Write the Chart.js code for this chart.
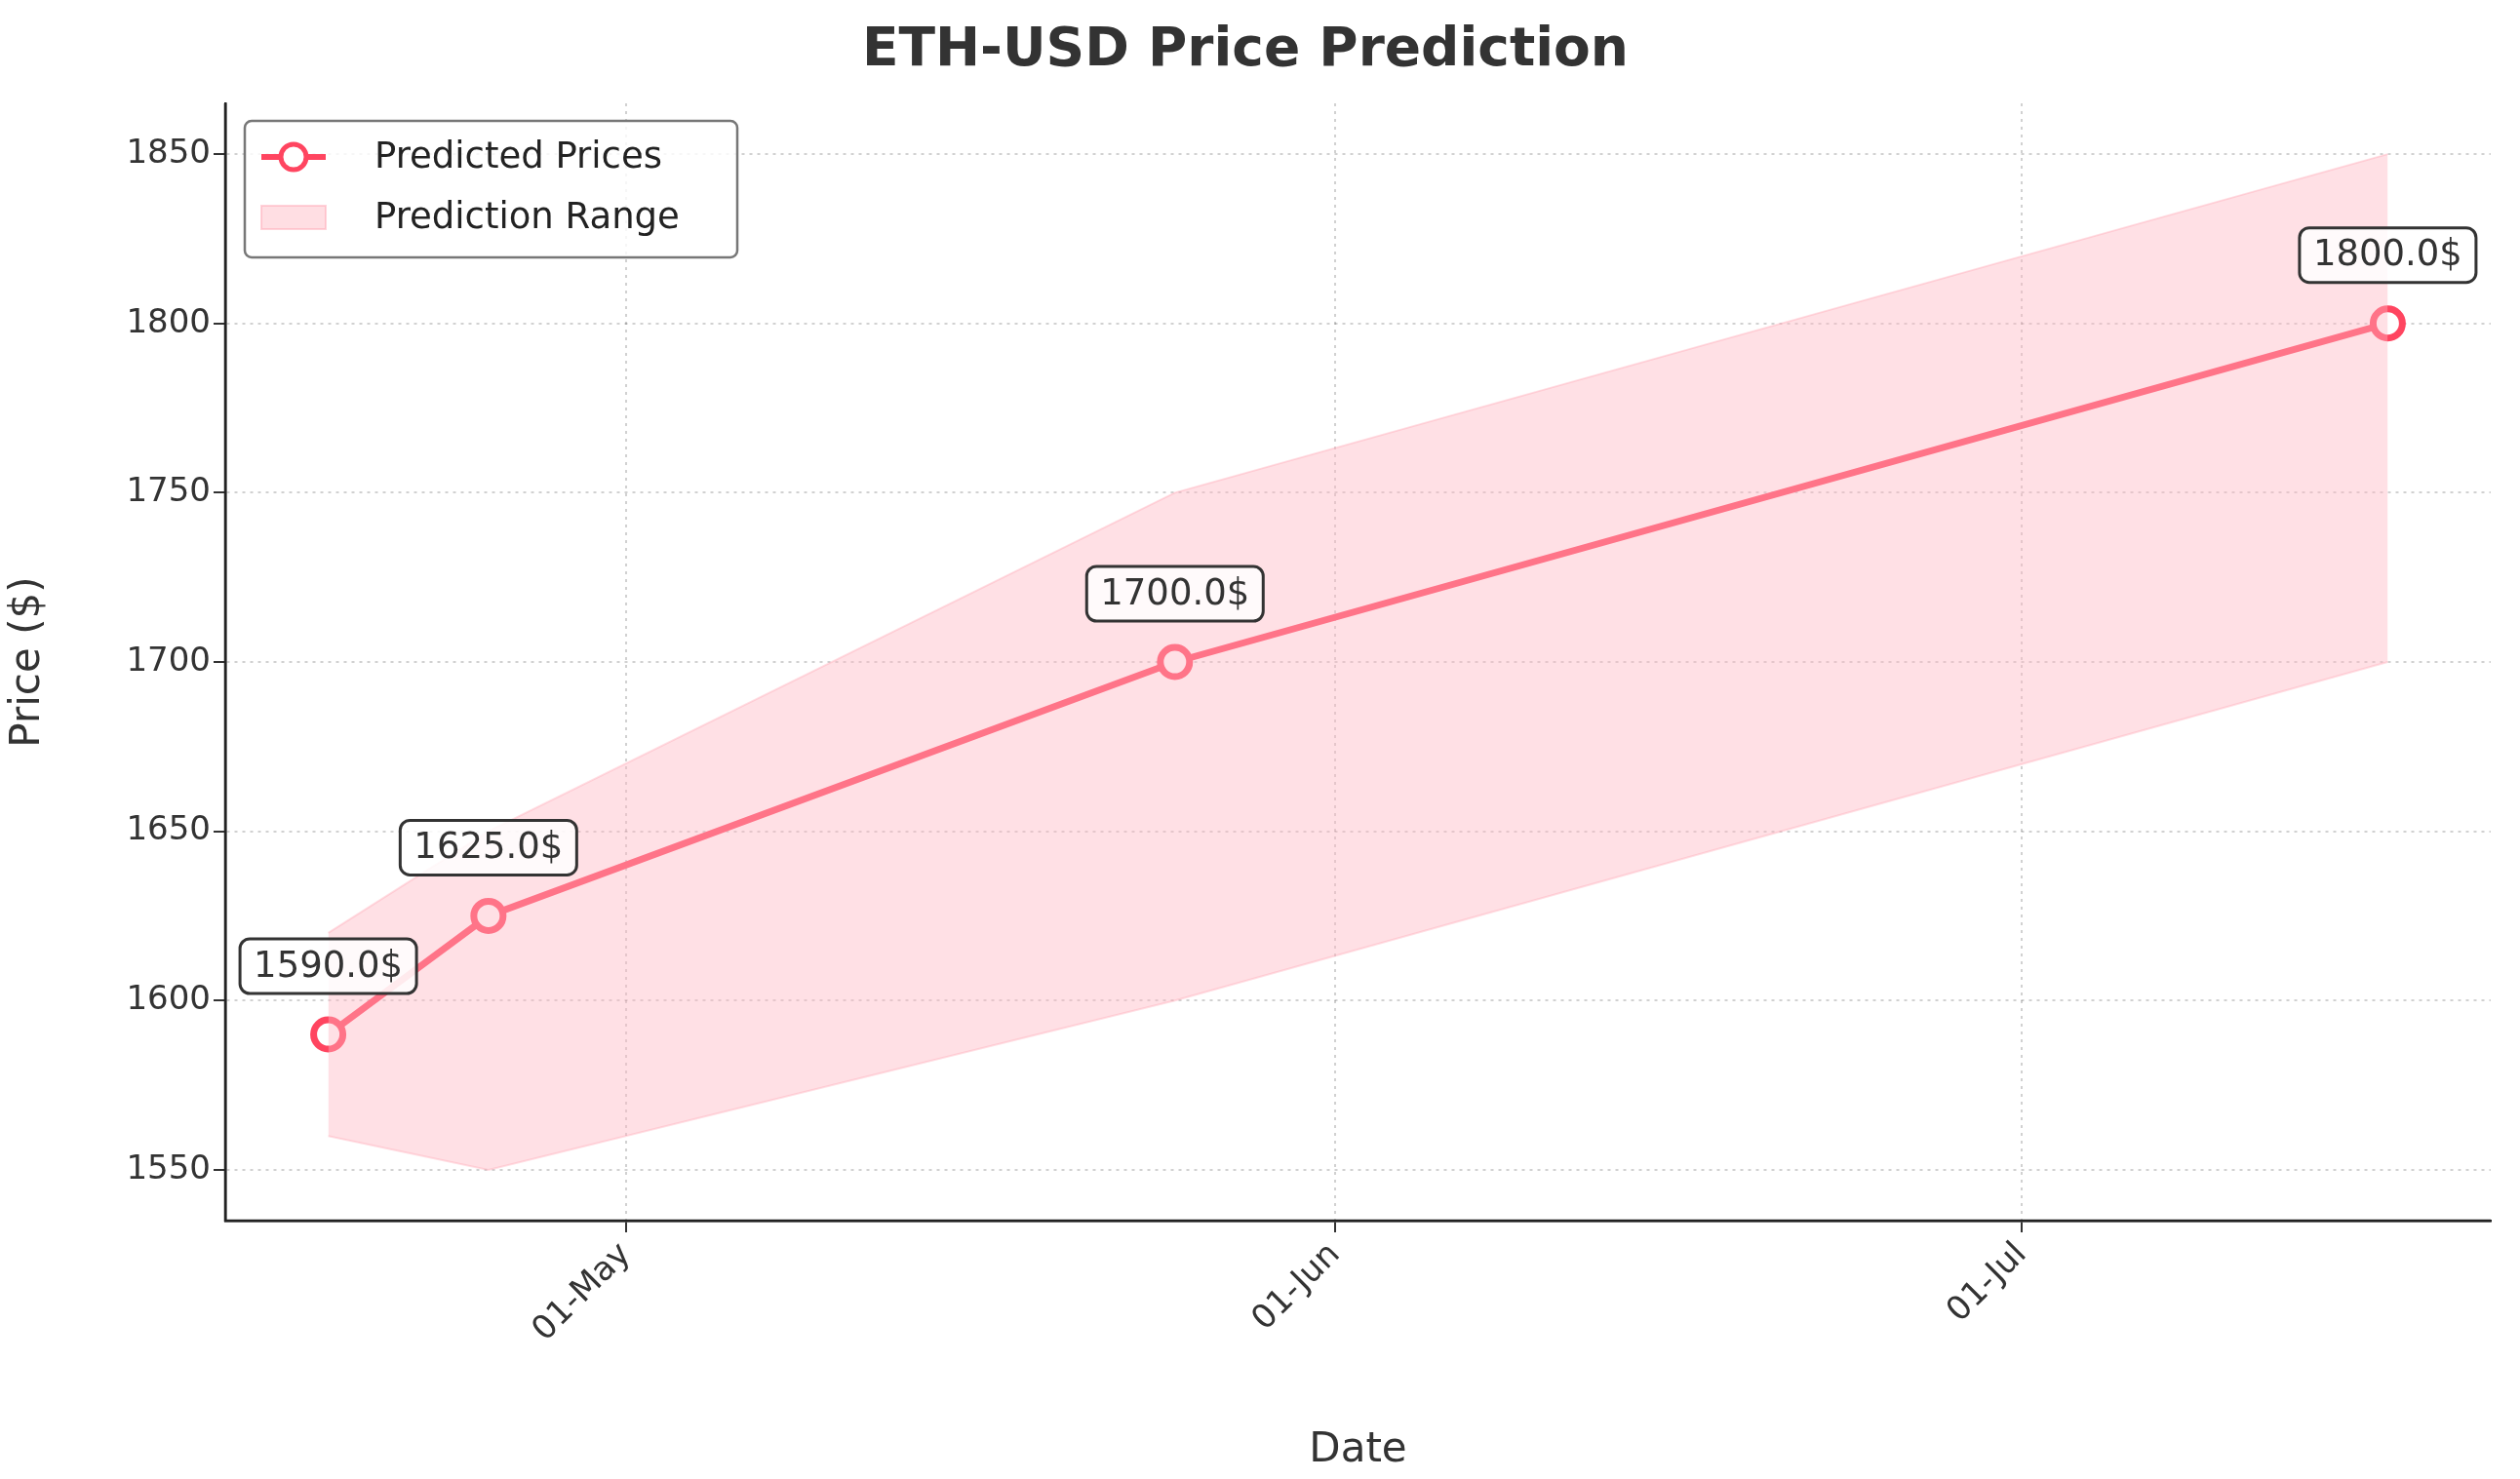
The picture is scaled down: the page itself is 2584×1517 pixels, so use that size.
<!DOCTYPE html>
<html><head><meta charset="utf-8">
<script src="https://cdn.jsdelivr.net/npm/chart.js@4"></script>
<style>html,body{margin:0;background:#fff}#wrap{width:2584px;height:1517px}</style>
</head><body><div id="wrap"><canvas id="chart"></canvas></div>
<script>
// x values: days relative to 01-May
const dates = ['18-Apr', '25-Apr', '25-May', '17-Jul'];
const dayOffsets = [-13, -6, 24, 77];
const predicted = [1590, 1625, 1700, 1800];
const lower = [1560, 1550, 1600, 1700];
const upper = [1620, 1650, 1750, 1850];
const xTicks = [0, 31, 61];
const xTickLabels = ['01-May', '01-Jun', '01-Jul'];
const yTicks = [1550, 1600, 1650, 1700, 1750, 1800, 1850];

const RED = '#ff4560';
const pts = arr => arr.map((v, i) => ({ x: dayOffsets[i], y: v }));

const extras = {
  id: 'extras',
  afterDatasetsDraw(chart) {
    const { ctx, scales: { x, y }, chartArea: a } = chart;
    ctx.save();
    // value labels
    ctx.font = '37px "DejaVu Sans"';
    ctx.textAlign = 'center'; ctx.textBaseline = 'middle';
    predicted.forEach((v, i) => {
      const px = x.getPixelForValue(dayOffsets[i]);
      const py = y.getPixelForValue(v) - 70;
      const t = v.toFixed(1) + '$';
      const w = ctx.measureText(t).width + 28, h = 56;
      ctx.beginPath();
      ctx.roundRect(px - w / 2, py - h / 2, w, h, 10);
      ctx.fillStyle = 'rgba(255,255,255,0.85)'; ctx.fill();
      ctx.lineWidth = 3; ctx.strokeStyle = '#333'; ctx.stroke();
      ctx.fillStyle = '#333'; ctx.fillText(t, px, py + 1);
    });
    // legend
    const lx = a.left + 20, ly = a.top + 18, lw = 505, lh = 140;
    ctx.beginPath(); ctx.roundRect(lx, ly, lw, lh, 7);
    ctx.fillStyle = 'rgba(255,255,255,0.8)'; ctx.fill();
    ctx.strokeStyle = '#777'; ctx.lineWidth = 2.5; ctx.stroke();
    ctx.strokeStyle = RED; ctx.lineWidth = 6;
    ctx.beginPath(); ctx.moveTo(lx + 17, ly + 37); ctx.lineTo(lx + 83, ly + 37); ctx.stroke();
    ctx.beginPath(); ctx.arc(lx + 50, ly + 37, 13, 0, Math.PI * 2);
    ctx.fillStyle = '#fff'; ctx.fill(); ctx.lineWidth = 5; ctx.stroke();
    ctx.fillStyle = 'rgba(255,182,193,0.45)'; ctx.fillRect(lx + 17, ly + 87, 66, 24);
    ctx.strokeStyle = 'rgba(255,160,175,0.45)'; ctx.lineWidth = 2; ctx.strokeRect(lx + 17, ly + 87, 66, 24);
    ctx.fillStyle = '#222'; ctx.textAlign = 'left'; ctx.font = '37px "DejaVu Sans"';
    ctx.fillText('Predicted Prices', lx + 133, ly + 38);
    ctx.fillText('Prediction Range', lx + 133, ly + 100);
    ctx.restore();
  }
};

new Chart(document.getElementById('chart').getContext('2d'), {
  type: 'line',
  data: {
    datasets: [
      { data: pts(lower), borderColor: 'rgba(255,160,175,0.35)', borderWidth: 2, pointRadius: 0, fill: false, tension: 0 },
      { data: pts(upper), borderColor: 'rgba(255,160,175,0.35)', borderWidth: 2, pointRadius: 0,
        fill: '-1', backgroundColor: 'rgba(255,182,193,0.42)', tension: 0 },
      { data: pts(predicted), borderColor: RED, borderWidth: 7, pointRadius: 15, pointBorderWidth: 7,
        pointBackgroundColor: '#fff', pointBorderColor: RED, fill: false, tension: 0 },
    ],
  },
  options: {
    responsive: true, maintainAspectRatio: false, animation: false,
    layout: { padding: { top: 10, right: 30, left: 0, bottom: 0 } },
    plugins: {
      legend: { display: false }, tooltip: { enabled: false },
      title: { display: true, text: 'ETH-USD Price Prediction', color: '#333',
        font: { size: 55, weight: 'bold', family: 'DejaVu Sans' }, padding: { top: 10, bottom: 20 } },
    },
    scales: {
      x: {
        type: 'linear', min: -17.5, max: 81.5,
        afterBuildTicks: s => { s.ticks = xTicks.map(v => ({ value: v })); },
        afterFit: s => { s.height = 265; },
        ticks: { color: '#333', font: { size: 34, family: 'DejaVu Sans' }, maxRotation: 45, minRotation: 45,
          callback: v => xTickLabels[xTicks.indexOf(v)] },
        grid: { color: 'rgba(0,0,0,0.18)', lineWidth: 2, tickLength: 12, tickColor: '#333' },
        border: { color: '#222', width: 2.5, dash: [3, 5] },
        title: { display: true, text: 'Date', color: '#333', font: { size: 42, family: 'DejaVu Sans' } },
      },
      y: {
        min: 1535, max: 1865,
        afterBuildTicks: s => { s.ticks = yTicks.map(v => ({ value: v })); },
        afterFit: s => { s.width = 231; },
        ticks: { color: '#333', font: { size: 34, family: 'DejaVu Sans' }, callback: v => String(v) },
        grid: { color: 'rgba(0,0,0,0.18)', lineWidth: 2, tickLength: 12, tickColor: '#333' },
        border: { color: '#222', width: 2.5, dash: [3, 5] },
        title: { display: true, text: 'Price ($)', color: '#333', font: { size: 42, family: 'DejaVu Sans' } },
      },
    },
  },
  plugins: [extras, {
    id: 'spines',
    beforeDatasetsDraw(chart) {
      const { ctx, chartArea: a } = chart;
      ctx.save(); ctx.strokeStyle = '#222'; ctx.lineWidth = 2.5;
      ctx.beginPath(); ctx.moveTo(a.left, a.top); ctx.lineTo(a.left, a.bottom); ctx.lineTo(a.right, a.bottom); ctx.stroke();
      ctx.restore();
    }
  }],
});
</script></body></html>
